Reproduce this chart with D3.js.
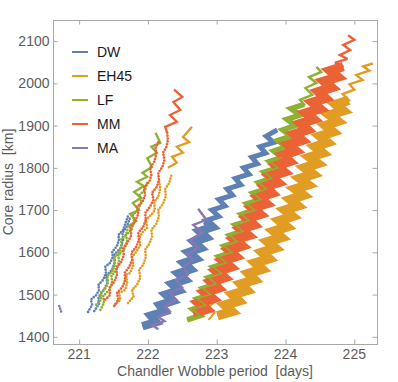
<!DOCTYPE html>
<html>
<head>
<meta charset="utf-8">
<script src="https://cdn.jsdelivr.net/npm/d3@7"></script>
<style>
  body { margin: 0; background: #fff; }
  svg { display: block; font-family: "Liberation Sans", Arial, sans-serif; }
</style>
</head>
<body>
<svg id="chart" width="398" height="382"></svg>
<script>
// axis ticks
const xTicks = [221, 222, 223, 224, 225];
const yTicks = [1400, 1500, 1600, 1700, 1800, 1900, 2000, 2100];
const models = ['DW', 'EH45', 'LF', 'MM', 'MA'];

// [period (days), core radius (km)]
// left cluster, dotted runs
const dwLeftA = [[221.13,1459],[221.19,1476],[221.17,1488],[221.25,1499],[221.29,1511],[221.28,1523],[221.35,1535],[221.39,1551],[221.38,1566],[221.45,1575],[221.49,1589],[221.48,1601],[221.55,1615],[221.58,1630],[221.57,1641],[221.64,1653],[221.68,1672],[221.71,1686]];
const dwLeftB = [[221.22,1461],[221.29,1478],[221.28,1494],[221.36,1511],[221.41,1528],[221.39,1544],[221.48,1559],[221.52,1577],[221.51,1594],[221.60,1610],[221.64,1630],[221.63,1646],[221.70,1663],[221.74,1682]];
const lfLeftA = [[221.25,1476],[221.32,1488],[221.31,1504],[221.39,1516],[221.42,1530],[221.41,1544],[221.48,1554],[221.52,1570],[221.51,1587],[221.58,1599],[221.62,1615],[221.61,1630],[221.68,1641],[221.71,1658]];
const lfLeftB = [[221.31,1464],[221.36,1480],[221.35,1497],[221.44,1511],[221.48,1528],[221.47,1544],[221.54,1559],[221.58,1577],[221.57,1594],[221.65,1606],[221.70,1625],[221.68,1641],[221.76,1653],[221.80,1672],[221.78,1689],[221.86,1700],[221.90,1719],[221.88,1736],[221.96,1748],[221.99,1767]];
const lfLeftTop = [[221.70,1660],[221.83,1674],[221.74,1691],[221.87,1700],[221.78,1717],[221.90,1729],[221.80,1743],[221.94,1757],[221.84,1767],[221.99,1779],[221.92,1788],[222.06,1802],[221.99,1823],[222.13,1836],[222.05,1850],[222.18,1859],[222.11,1883]];
const mmLeftA = [[221.38,1488],[221.45,1499],[221.44,1516],[221.51,1530],[221.55,1547],[221.54,1563],[221.61,1577],[221.65,1594],[221.64,1610],[221.71,1625],[221.76,1641],[221.74,1658],[221.81,1672],[221.86,1691],[221.84,1708],[221.92,1719],[221.96,1736],[221.94,1753],[222.02,1767],[222.05,1783],[222.03,1800],[222.09,1814],[222.12,1831],[222.11,1847],[222.15,1861]];
const mmLeftB = [[221.51,1473],[221.57,1488],[221.55,1504],[221.63,1518],[221.67,1535],[221.66,1551],[221.73,1566],[221.77,1582],[221.76,1599],[221.83,1613],[221.87,1630],[221.86,1646],[221.93,1660],[221.97,1677],[221.96,1693],[222.03,1708],[222.08,1724],[222.06,1741],[222.13,1755],[222.16,1771],[222.15,1788],[222.21,1802],[222.24,1819],[222.22,1836],[222.27,1850],[222.29,1866],[222.28,1883]];
const mmLeftTop = [[222.28,1883],[222.25,1897],[222.42,1909],[222.32,1925],[222.47,1937],[222.37,1956],[222.50,1968],[222.38,1985]];
const eh45LeftA = [[221.52,1476],[221.60,1488],[221.58,1504],[221.67,1511],[221.70,1530],[221.68,1547],[221.74,1551],[221.79,1570],[221.77,1589],[221.83,1601],[221.89,1618],[221.87,1634],[221.93,1649],[221.99,1658],[221.97,1677],[222.05,1689],[222.10,1700],[222.09,1719],[222.15,1731],[222.18,1752],[222.16,1771]];
const eh45LeftB = [[221.71,1480],[221.79,1495],[221.77,1511],[221.84,1523],[221.89,1540],[221.87,1559],[221.93,1570],[221.97,1589],[221.96,1606],[222.02,1620],[222.06,1637],[222.05,1653],[222.12,1667],[222.16,1684],[222.15,1700],[222.22,1715],[222.26,1733],[222.25,1750],[222.31,1764],[222.34,1783]];
const eh45LeftTop = [[222.29,1800],[222.42,1812],[222.35,1826],[222.51,1836],[222.42,1850],[222.60,1861],[222.51,1873],[222.64,1897]];
const maLeft = [[220.71,1473],[220.74,1459]];

// right cluster, zigzag runs
const dwRight = [[221.92,1425],[222.12,1435],[222.04,1450],[222.24,1460],[222.17,1475],[222.36,1485],[222.26,1500],[222.45,1510],[222.35,1525],[222.54,1535],[222.44,1550],[222.62,1560],[222.52,1575],[222.70,1585],[222.59,1600],[222.77,1610],[222.67,1625],[222.85,1635],[222.75,1650],[222.94,1660],[222.84,1675],[223.03,1685],[222.93,1700],[223.12,1710],[223.03,1725],[223.23,1735],[223.15,1750],[223.35,1760],[223.27,1775],[223.47,1785],[223.39,1800],[223.59,1810],[223.51,1825],[223.71,1835],[223.63,1850],[223.83,1860],[223.72,1875],[223.88,1890]];
const eh45Right = [[223.01,1450],[223.22,1460],[223.12,1475],[223.32,1485],[223.23,1500],[223.44,1510],[223.35,1525],[223.55,1535],[223.46,1550],[223.66,1560],[223.56,1575],[223.76,1585],[223.66,1600],[223.85,1610],[223.74,1625],[223.94,1635],[223.83,1650],[224.02,1660],[223.91,1675],[224.10,1685],[223.99,1700],[224.18,1710],[224.07,1725],[224.26,1735],[224.14,1750],[224.33,1760],[224.21,1775],[224.40,1785],[224.28,1800],[224.47,1810],[224.35,1825],[224.54,1835],[224.43,1850],[224.61,1860],[224.50,1875],[224.69,1885],[224.58,1900],[224.76,1910],[224.64,1925],[224.84,1935],[224.73,1950],[224.92,1960],[224.83,1975],[225.00,1985],[224.93,1998],[225.12,2008],[225.03,2020],[225.22,2030],[225.13,2040],[225.27,2047]];
const eh45Tail = [[222.88,1440],[222.97,1457],[222.87,1469],[222.95,1480],[222.91,1492]];
const lfRight = [[222.57,1440],[222.76,1450],[222.65,1465],[222.84,1475],[222.72,1490],[222.91,1500],[222.80,1515],[222.99,1525],[222.88,1540],[223.07,1550],[222.95,1565],[223.14,1575],[223.03,1590],[223.22,1600],[223.11,1615],[223.30,1625],[223.19,1640],[223.38,1650],[223.27,1665],[223.47,1675],[223.36,1690],[223.55,1700],[223.44,1715],[223.64,1725],[223.53,1740],[223.72,1750],[223.61,1765],[223.80,1775],[223.69,1790],[223.89,1800],[223.77,1815],[223.95,1825],[223.83,1840],[224.01,1850],[223.89,1865],[224.08,1875],[223.96,1890],[224.14,1900],[224.02,1915],[224.21,1925],[224.08,1940],[224.27,1950],[224.21,1961],[224.39,1973],[224.29,1989],[224.45,2001],[224.34,2015],[224.52,2027],[224.45,2039]];
const mmRight = [[222.66,1455],[222.85,1465],[222.74,1480],[222.94,1490],[222.83,1505],[223.02,1515],[222.92,1530],[223.11,1540],[223.00,1555],[223.20,1565],[223.09,1580],[223.28,1590],[223.18,1605],[223.37,1615],[223.26,1630],[223.46,1640],[223.35,1655],[223.54,1665],[223.44,1680],[223.63,1690],[223.52,1705],[223.72,1715],[223.61,1730],[223.80,1740],[223.70,1755],[223.89,1765],[223.78,1780],[223.98,1790],[223.87,1805],[224.06,1815],[223.96,1830],[224.15,1840],[224.04,1855],[224.24,1865],[224.13,1880],[224.32,1890],[224.22,1905],[224.41,1915],[224.30,1930],[224.50,1940],[224.39,1955],[224.58,1965],[224.48,1980],[224.67,1990],[224.56,2005],[224.76,2015],[224.65,2030],[224.84,2040],[224.72,2049],[224.90,2058],[224.79,2067],[224.94,2079],[224.84,2091],[225.00,2103],[224.91,2114]];
const maRight = [[222.15,1418],[222.06,1428],[222.24,1437],[222.15,1447],[222.32,1460],[222.25,1473],[222.41,1488],[222.32,1504],[222.50,1516],[222.41,1535],[222.58,1547],[222.51,1566],[222.66,1582],[222.57,1594],[222.73,1611],[222.61,1630],[222.79,1646],[222.66,1665],[222.85,1677],[222.73,1703]];

const color = d3.scaleOrdinal()
  .domain(models)
  .range(['#5e81b5', '#e19c24', '#8fb032', '#eb6235', '#8778b3']);

const svg = d3.select('#chart');
const frame = { left: 53, top: 20, right: 377, bottom: 344 };

const x = d3.scaleLinear().domain([220.62, 225.33]).range([frame.left, frame.right]);
const y = d3.scaleLinear().domain([1383, 2150]).range([frame.bottom, frame.top]);

const line = d3.line().x(d => x(d[0])).y(d => y(d[1]));

// what gets drawn, in drawing order
const layers = [
  { data: dwLeftA, model: 'DW', kind: 'dots' },
  { data: dwLeftB, model: 'DW', kind: 'dots' },
  { data: eh45LeftA, model: 'EH45', kind: 'dots' },
  { data: eh45LeftB, model: 'EH45', kind: 'dots' },
  { data: eh45LeftTop, model: 'EH45', kind: 'line', w: 2.3 },
  { data: lfLeftA, model: 'LF', kind: 'dots' },
  { data: lfLeftB, model: 'LF', kind: 'dots' },
  { data: lfLeftTop, model: 'LF', kind: 'line', w: 2.3 },
  { data: mmLeftA, model: 'MM', kind: 'dots' },
  { data: mmLeftB, model: 'MM', kind: 'dots' },
  { data: mmLeftTop, model: 'MM', kind: 'line', w: 2.3 },
  { data: maLeft, model: 'MA', kind: 'dots' },

  { data: dwRight, model: 'DW', kind: 'line', w: 5 },
  { data: dwRight.filter(d => d[1] <= 1680), model: 'DW', kind: 'line', w: 8.5 },
  { data: eh45Right, model: 'EH45', kind: 'line', w: 2.4 },
  { data: eh45Right.filter(d => d[1] <= 1962), model: 'EH45', kind: 'line', w: 9.5 },
  { data: eh45Tail, model: 'EH45', kind: 'line', w: 2 },
  { data: lfRight, model: 'LF', kind: 'line', w: 2.4 },
  { data: lfRight.filter(d => d[1] <= 1955), model: 'LF', kind: 'line', w: 5.5 },
  { data: mmRight, model: 'MM', kind: 'line', w: 2.4 },
  { data: mmRight.filter(d => d[1] <= 2042), model: 'MM', kind: 'line', w: 9.5 },
  { data: lfRight.filter(d => d[1] <= 1830), model: 'LF', kind: 'line', w: 1.5 },
  { data: maRight, model: 'MA', kind: 'line', w: 2.4 }
];

svg.append('defs').append('clipPath').attr('id', 'plotClip')
  .append('rect')
  .attr('x', frame.left).attr('y', frame.top)
  .attr('width', frame.right - frame.left).attr('height', frame.bottom - frame.top);

const plot = svg.append('g').attr('clip-path', 'url(#plotClip)');

layers.forEach(l => {
  const p = plot.append('path')
    .datum(l.data)
    .attr('fill', 'none')
    .attr('stroke', color(l.model))
    .attr('d', line);
  if (l.kind === 'dots') {
    p.attr('stroke-width', 2.7)
      .attr('stroke-linecap', 'round')
      .attr('stroke-dasharray', '0 2.9');
  } else {
    p.attr('stroke-width', l.w)
      .attr('stroke-linejoin', 'miter')
      .attr('stroke-miterlimit', 2.5);
  }
});

// frame with inward ticks
const frameColor = '#a8a8a8';
const xMinor = d3.range(220.8, 225.3, 0.2).filter(v => Math.abs(v - Math.round(v)) > 0.05);
const yMinor = d3.range(1400, 2150, 20).filter(v => v % 100 !== 0);

function addAxis(axisFn, scale, transform, major, minor) {
  const g = svg.append('g').attr('transform', transform);
  g.call(axisFn(scale).tickValues(minor).tickSize(-2.5).tickFormat(''));
  g.call(axisFn(scale).tickValues(major).tickSize(-4.5).tickFormat(''));
  g.selectAll('path.domain').attr('stroke', frameColor);
  g.selectAll('.tick line').attr('stroke', frameColor);
  return g;
}

addAxis(d3.axisBottom, x, `translate(0,${frame.bottom})`, xTicks, xMinor);
addAxis(d3.axisTop, x, `translate(0,${frame.top})`, xTicks, xMinor);
addAxis(d3.axisLeft, y, `translate(${frame.left},0)`, yTicks, yMinor);
addAxis(d3.axisRight, y, `translate(${frame.right},0)`, yTicks, yMinor);

const labelColor = '#5c5c5c';

svg.append('g').selectAll('text')
  .data(xTicks)
  .join('text')
  .attr('x', d => x(d))
  .attr('y', 358.5)
  .attr('text-anchor', 'middle')
  .attr('font-size', 14)
  .attr('fill', labelColor)
  .text(d => d);

svg.append('g').selectAll('text')
  .data(yTicks)
  .join('text')
  .attr('x', 49.5)
  .attr('y', d => y(d))
  .attr('dy', '0.36em')
  .attr('text-anchor', 'end')
  .attr('font-size', 14)
  .attr('fill', labelColor)
  .text(d => d);

svg.append('text')
  .attr('x', (frame.left + frame.right) / 2)
  .attr('y', 376)
  .attr('text-anchor', 'middle')
  .attr('font-size', 14)
  .attr('fill', labelColor)
  .style('white-space', 'pre')
  .text('Chandler Wobble period  [days]');

svg.append('text')
  .attr('transform', `translate(13,${(frame.top + frame.bottom) / 2}) rotate(-90)`)
  .attr('text-anchor', 'middle')
  .attr('font-size', 14)
  .attr('fill', labelColor)
  .style('white-space', 'pre')
  .text('Core radius  [km]');

// legend
const legend = svg.append('g').attr('transform', 'translate(72,52)');
legend.selectAll('g')
  .data(models)
  .join('g')
  .attr('transform', (d, i) => `translate(0,${i * 24})`)
  .each(function (d) {
    const g = d3.select(this);
    g.append('line')
      .attr('x1', 0).attr('x2', 16)
      .attr('stroke', color(d))
      .attr('stroke-width', 2);
    g.append('text')
      .attr('x', 25)
      .attr('dy', '0.36em')
      .attr('font-size', 14)
      .attr('fill', '#1a1a1a')
      .text(d);
  });
</script>
</body>
</html>
